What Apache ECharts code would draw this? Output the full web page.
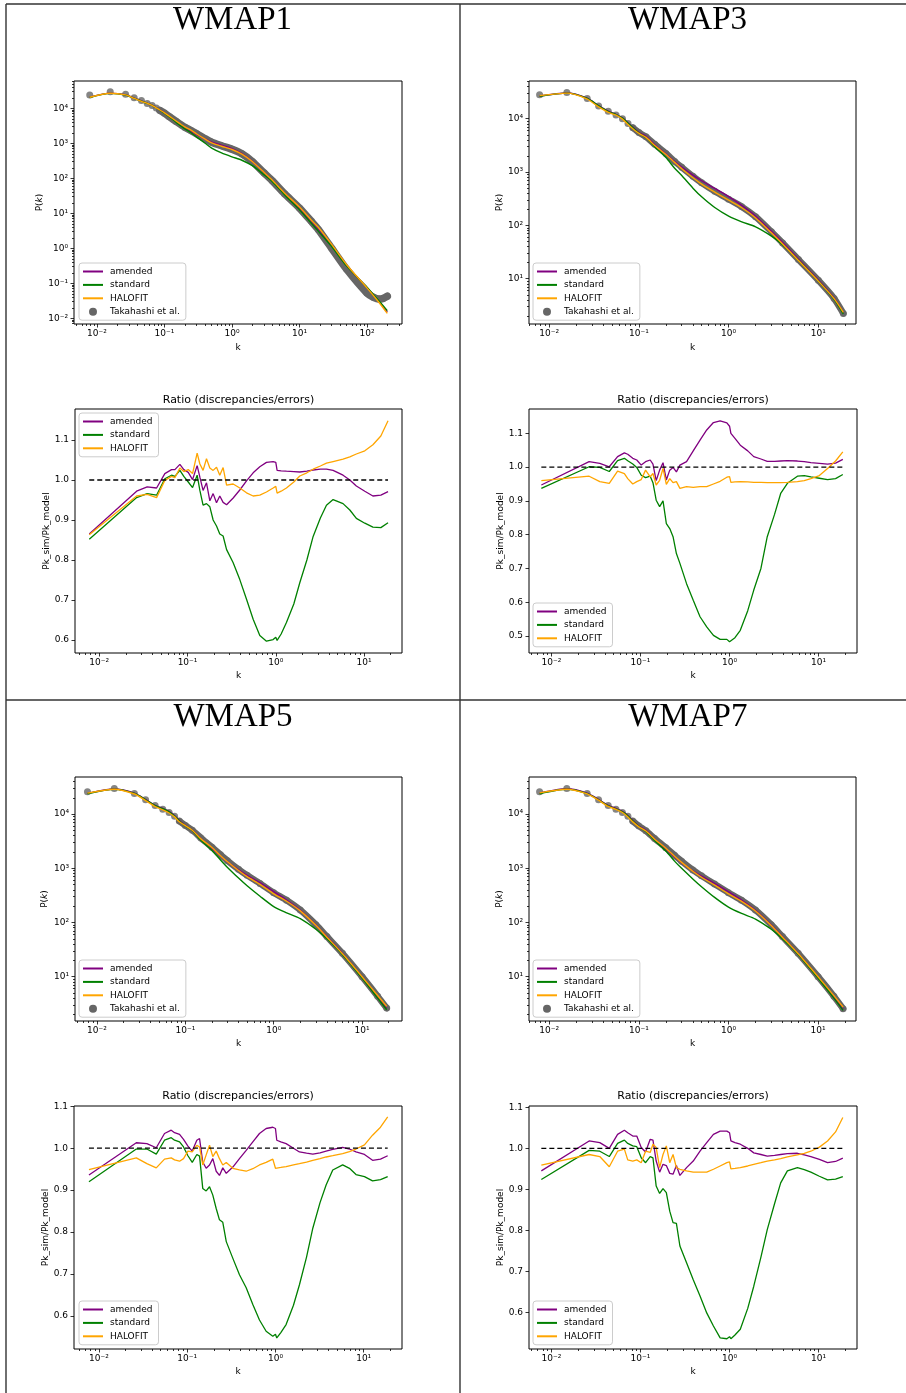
<!DOCTYPE html>
<html><head><meta charset="utf-8">
<script src="https://cdn.jsdelivr.net/npm/echarts@6/dist/echarts.min.js"></script>
<style>html,body{margin:0;padding:0;background:#fff}#c{width:906px;height:1393px}</style>
</head><body><div id="c"></div><script>
// ---------------- DATA ----------------
// wavenumbers k of the model curves in the P(k) panels
const topK = [0.0078, 0.0157, 0.0265, 0.0355, 0.0455, 0.0555, 0.0655, 0.0755, 0.0855, 0.1, 0.12, 0.15, 0.2, 0.25, 0.3, 0.4, 0.5, 0.7, 1.0, 1.4, 2.0, 3.0, 4.0, 6.0, 10, 15, 19];
const wmap1K = [0.0078, 0.0157, 0.0265, 0.0355, 0.0455, 0.0555, 0.0655, 0.0755, 0.0855, 0.1, 0.12, 0.15, 0.2, 0.25, 0.3, 0.4, 0.5, 0.7, 1.0, 1.4, 2.0, 3.0, 4.0, 6.0, 10, 15, 19, 30, 50, 100, 150, 200];
const wmap1SimK = [0.0078, 0.0157, 0.0265, 0.0355, 0.0455, 0.0555, 0.0655, 0.0755, 0.0855, 0.1, 0.12, 0.15, 0.2, 0.25, 0.3, 0.4, 0.5, 0.7, 1.0, 1.4, 2.0, 3.0, 4.0, 6.0, 10, 15, 19, 30, 50, 100, 125, 150, 175, 200];
// log10 P(k) values
const wmap1Sim      = [4.38, 4.47, 4.40, 4.30, 4.22, 4.14, 4.08, 4.01, 3.94, 3.86, 3.75, 3.62, 3.46, 3.36, 3.27, 3.13, 3.03, 2.93, 2.83, 2.70, 2.48, 2.15, 1.92, 1.56, 1.15, 0.77, 0.54, 0.00, -0.60, -1.28, -1.40, -1.45, -1.43, -1.37];
const wmap1Amended  = [4.317, 4.434, 4.388, 4.293, 4.211, 4.147, 4.091, 4.023, 3.954, 3.869, 3.759, 3.609, 3.442, 3.335, 3.245, 3.120, 3.033, 2.946, 2.849, 2.709, 2.489, 2.161, 1.931, 1.564, 1.138, 0.753, 0.527, 0.070, -0.500, -1.120, -1.520, -1.820];
const wmap1Standard = [4.310, 4.427, 4.380, 4.285, 4.203, 4.141, 4.085, 4.016, 3.947, 3.858, 3.748, 3.592, 3.414, 3.294, 3.178, 3.002, 2.863, 2.726, 2.613, 2.516, 2.361, 2.097, 1.895, 1.533, 1.102, 0.715, 0.491, 0.050, -0.510, -1.110, -1.500, -1.780];
const wmap1Halofit  = [4.316, 4.429, 4.382, 4.284, 4.200, 4.140, 4.084, 4.014, 3.951, 3.871, 3.763, 3.630, 3.471, 3.371, 3.266, 3.119, 3.013, 2.915, 2.823, 2.689, 2.479, 2.163, 1.937, 1.582, 1.177, 0.803, 0.600, 0.110, -0.470, -1.130, -1.540, -1.860];

const wmap3Sim      = [4.45, 4.49, 4.38, 4.24, 4.14, 4.07, 4.00, 3.91, 3.83, 3.74, 3.66, 3.52, 3.35, 3.20, 3.09, 2.92, 2.80, 2.64, 2.49, 2.35, 2.16, 1.88, 1.67, 1.36, 0.97, 0.63, 0.35];
const wmap3Amended  = [4.426, 4.483, 4.387, 4.245, 4.140, 4.083, 4.018, 3.923, 3.840, 3.743, 3.668, 3.511, 3.337, 3.196, 3.094, 2.941, 2.837, 2.695, 2.540, 2.375, 2.173, 1.888, 1.678, 1.368, 0.975, 0.634, 0.360];
const wmap3Standard = [4.422, 4.479, 4.380, 4.240, 4.134, 4.078, 4.011, 3.915, 3.830, 3.729, 3.647, 3.475, 3.271, 3.072, 2.935, 2.698, 2.536, 2.335, 2.174, 2.066, 1.973, 1.799, 1.638, 1.348, 0.956, 0.614, 0.340];
const wmap3Halofit  = [4.432, 4.479, 4.368, 4.221, 4.119, 4.065, 3.992, 3.890, 3.812, 3.724, 3.649, 3.498, 3.328, 3.181, 3.063, 2.894, 2.775, 2.624, 2.473, 2.331, 2.140, 1.860, 1.650, 1.341, 0.955, 0.626, 0.369];

const wmap5Sim      = [4.41, 4.47, 4.38, 4.265, 4.16, 4.09, 4.03, 3.96, 3.87, 3.79, 3.70, 3.56, 3.39, 3.25, 3.14, 2.98, 2.87, 2.72, 2.55, 2.41, 2.23, 1.96, 1.74, 1.43, 1.00, 0.64, 0.42];
const wmap5Amended  = [4.381, 4.463, 4.386, 4.270, 4.160, 4.105, 4.048, 3.975, 3.883, 3.792, 3.704, 3.545, 3.372, 3.225, 3.118, 2.969, 2.870, 2.735, 2.570, 2.414, 2.226, 1.954, 1.737, 1.430, 0.996, 0.628, 0.412];
const wmap5Standard = [4.374, 4.457, 4.379, 4.264, 4.154, 4.098, 4.041, 3.966, 3.874, 3.782, 3.696, 3.516, 3.330, 3.153, 3.015, 2.819, 2.676, 2.483, 2.293, 2.177, 2.069, 1.874, 1.699, 1.410, 0.973, 0.605, 0.389];
const wmap5Halofit  = [4.387, 4.459, 4.370, 4.249, 4.139, 4.079, 4.020, 3.948, 3.857, 3.787, 3.700, 3.542, 3.383, 3.232, 3.119, 2.958, 2.845, 2.702, 2.529, 2.391, 2.214, 1.947, 1.729, 1.422, 0.999, 0.653, 0.451];

const wmap7Sim      = [4.41, 4.47, 4.38, 4.265, 4.16, 4.09, 4.03, 3.96, 3.87, 3.78, 3.69, 3.55, 3.38, 3.24, 3.13, 2.97, 2.86, 2.71, 2.55, 2.41, 2.23, 1.96, 1.74, 1.43, 1.00, 0.64, 0.41];
const wmap7Amended  = [4.385, 4.466, 4.388, 4.271, 4.160, 4.105, 4.049, 3.973, 3.883, 3.780, 3.699, 3.536, 3.358, 3.212, 3.103, 2.955, 2.856, 2.723, 2.566, 2.414, 2.225, 1.952, 1.734, 1.425, 0.990, 0.625, 0.399];
const wmap7Standard = [4.376, 4.457, 4.378, 4.262, 4.151, 4.095, 4.039, 3.963, 3.870, 3.770, 3.681, 3.508, 3.320, 3.132, 2.999, 2.803, 2.659, 2.462, 2.283, 2.166, 2.063, 1.874, 1.699, 1.408, 0.971, 0.605, 0.379];
const wmap7Halofit  = [4.392, 4.459, 4.373, 4.256, 4.140, 4.087, 4.029, 3.947, 3.856, 3.765, 3.688, 3.537, 3.369, 3.220, 3.108, 2.945, 2.834, 2.690, 2.528, 2.390, 2.213, 1.946, 1.729, 1.422, 0.998, 0.651, 0.441];

// wavenumbers of the ratio panels
const ratioK = [0.0077, 0.0265, 0.0349, 0.0446, 0.0553, 0.0659, 0.0719, 0.0819, 0.0908, 0.1019, 0.114, 0.1285, 0.138, 0.150, 0.164, 0.179, 0.195, 0.213, 0.232, 0.253, 0.277, 0.329, 0.391, 0.466, 0.554, 0.659, 0.784, 0.933, 1.0, 1.035, 1.15, 1.32, 1.6, 1.87, 2.25, 2.65, 3.2, 3.75, 4.46, 5.78, 6.9, 8.18, 10.2, 12.6, 15.5, 18.7];

const r1Amended  = [0.865, 0.972, 0.983, 0.980, 1.016, 1.026, 1.026, 1.039, 1.026, 1.019, 1.001, 1.036, 1.007, 0.974, 0.993, 0.948, 0.966, 0.943, 0.960, 0.944, 0.938, 0.955, 0.975, 0.998, 1.018, 1.033, 1.044, 1.046, 1.044, 1.024, 1.023, 1.022, 1.021, 1.020, 1.022, 1.025, 1.027, 1.027, 1.024, 1.012, 1.000, 0.985, 0.972, 0.960, 0.962, 0.971];
const r1Standard = [0.852, 0.956, 0.966, 0.962, 1.003, 1.012, 1.009, 1.024, 1.009, 0.995, 0.981, 1.012, 0.974, 0.937, 0.941, 0.933, 0.900, 0.885, 0.865, 0.860, 0.826, 0.793, 0.751, 0.702, 0.652, 0.611, 0.597, 0.601, 0.607, 0.599, 0.615, 0.644, 0.690, 0.743, 0.800, 0.859, 0.905, 0.937, 0.951, 0.941, 0.925, 0.904, 0.892, 0.882, 0.881, 0.893];
const r1Halofit  = [0.863, 0.960, 0.964, 0.956, 0.999, 1.009, 1.006, 1.030, 1.021, 1.026, 1.016, 1.067, 1.040, 1.024, 1.053, 1.030, 1.024, 1.032, 1.012, 1.031, 0.987, 0.990, 0.980, 0.968, 0.960, 0.962, 0.970, 0.980, 0.984, 0.967, 0.972, 0.980, 0.995, 1.010, 1.018, 1.027, 1.035, 1.042, 1.046, 1.052, 1.058, 1.065, 1.073, 1.088, 1.110, 1.148];

const r3Amended  = [0.947, 1.016, 1.011, 1.001, 1.031, 1.042, 1.038, 1.026, 1.021, 1.006, 1.016, 1.021, 1.009, 0.960, 0.991, 1.013, 0.962, 0.991, 0.999, 0.986, 1.006, 1.016, 1.048, 1.080, 1.110, 1.132, 1.137, 1.131, 1.121, 1.100, 1.085, 1.065, 1.048, 1.031, 1.024, 1.017, 1.017, 1.018, 1.019, 1.018, 1.016, 1.013, 1.011, 1.009, 1.012, 1.023];
const r3Standard = [0.937, 1.001, 0.999, 0.987, 1.019, 1.026, 1.019, 1.009, 0.999, 0.976, 0.969, 0.973, 0.954, 0.902, 0.883, 0.900, 0.833, 0.818, 0.794, 0.744, 0.715, 0.655, 0.606, 0.557, 0.527, 0.502, 0.490, 0.490, 0.483, 0.488, 0.495, 0.517, 0.575, 0.636, 0.700, 0.794, 0.860, 0.922, 0.952, 0.973, 0.975, 0.971, 0.967, 0.963, 0.966, 0.978];
const r3Halofit  = [0.960, 0.973, 0.957, 0.952, 0.988, 0.981, 0.966, 0.950, 0.957, 0.963, 0.991, 0.971, 0.981, 0.947, 0.961, 0.996, 0.949, 0.966, 0.954, 0.957, 0.937, 0.942, 0.940, 0.942, 0.942, 0.950, 0.958, 0.970, 0.972, 0.955, 0.956, 0.957, 0.956, 0.955, 0.955, 0.954, 0.954, 0.954, 0.955, 0.957, 0.960, 0.966, 0.975, 0.996, 1.018, 1.045];

const r5Amended  = [0.936, 1.013, 1.011, 1.001, 1.035, 1.043, 1.037, 1.033, 1.021, 1.005, 0.993, 1.019, 1.023, 0.967, 0.952, 0.960, 0.975, 0.945, 0.935, 0.953, 0.940, 0.955, 0.975, 0.995, 1.015, 1.035, 1.047, 1.050, 1.047, 1.019, 1.015, 1.011, 1.000, 0.991, 0.988, 0.986, 0.989, 0.993, 0.997, 1.002, 0.998, 0.991, 0.985, 0.971, 0.974, 0.982];
const r5Standard = [0.920, 0.998, 0.998, 0.986, 1.019, 1.025, 1.019, 1.015, 1.003, 0.982, 0.966, 0.985, 0.981, 0.904, 0.898, 0.908, 0.888, 0.856, 0.829, 0.823, 0.777, 0.737, 0.698, 0.667, 0.627, 0.590, 0.563, 0.551, 0.556, 0.547, 0.560, 0.579, 0.625, 0.674, 0.740, 0.809, 0.870, 0.912, 0.948, 0.960, 0.952, 0.937, 0.932, 0.922, 0.925, 0.932];
const r5Halofit  = [0.949, 0.977, 0.963, 0.953, 0.974, 0.977, 0.972, 0.969, 0.975, 0.993, 0.991, 1.007, 1.003, 0.960, 0.984, 1.007, 0.980, 0.993, 0.975, 0.960, 0.966, 0.952, 0.948, 0.945, 0.951, 0.960, 0.966, 0.974, 0.952, 0.953, 0.954, 0.956, 0.960, 0.963, 0.967, 0.971, 0.975, 0.979, 0.982, 0.987, 0.992, 0.998, 1.008, 1.031, 1.050, 1.075];

const r7Amended  = [0.945, 1.018, 1.014, 1.000, 1.034, 1.044, 1.038, 1.030, 1.030, 1.002, 0.991, 1.022, 1.020, 0.969, 0.942, 0.961, 0.958, 0.939, 0.937, 0.958, 0.934, 0.953, 0.969, 0.993, 1.014, 1.034, 1.042, 1.042, 1.038, 1.018, 1.014, 1.010, 1.000, 0.989, 0.985, 0.981, 0.983, 0.985, 0.987, 0.988, 0.984, 0.980, 0.973, 0.965, 0.968, 0.976];
const r7Standard = [0.924, 0.995, 0.993, 0.980, 1.012, 1.020, 1.012, 1.006, 1.004, 0.977, 0.965, 0.980, 0.977, 0.908, 0.890, 0.902, 0.892, 0.847, 0.819, 0.817, 0.762, 0.721, 0.680, 0.640, 0.599, 0.567, 0.538, 0.536, 0.541, 0.536, 0.545, 0.559, 0.610, 0.664, 0.735, 0.802, 0.865, 0.916, 0.945, 0.953, 0.948, 0.942, 0.932, 0.923, 0.925, 0.931];
const r7Halofit  = [0.959, 0.985, 0.980, 0.955, 0.993, 0.998, 0.972, 0.969, 0.972, 0.965, 0.993, 0.990, 1.010, 1.002, 0.953, 0.985, 1.006, 0.965, 0.985, 0.953, 0.949, 0.945, 0.942, 0.942, 0.942, 0.949, 0.957, 0.965, 0.967, 0.950, 0.951, 0.953, 0.957, 0.961, 0.965, 0.969, 0.972, 0.975, 0.979, 0.984, 0.988, 0.993, 1.003, 1.018, 1.040, 1.075];

const unityLevel = 1.0;
const panelTitles = ['WMAP1', 'WMAP3', 'WMAP5', 'WMAP7'];
const ratioTitle = 'Ratio (discrepancies/errors)';
const seriesNames = ['amended', 'standard', 'HALOFIT'];
const simName = 'Takahashi et al.';

// ---------------- LAYOUT ----------------
const FONT = 'DejaVu Sans';
const COLORS = {amended: '#800080', standard: '#008000', HALOFIT: '#ffa500', sim: '#666666'};
const panels = [
  {title: panelTitles[0], tx: 232.5, ty: 20.5,
   top: {simK: wmap1SimK, sim: wmap1Sim, k: wmap1K, vals: [wmap1Amended, wmap1Standard, wmap1Halofit], band: 7.5,
         rect: [74, 81, 328, 243], x: [-2.341, 2.519], y: [-2.163, 4.78], yGap: 30, xGap: 19, legend: [79, 263]},
   ratio: {vals: [r1Amended, r1Standard, r1Halofit], rect: [75, 409, 327, 244], x: [-2.275, 1.43], y: [0.5675, 1.1775], yGap: 23, xGap: 18, legend: [79, 413], ty: 400}},
  {title: panelTitles[1], tx: 687.5, ty: 20.5,
   top: {simK: topK, sim: wmap3Sim, k: topK, vals: [wmap3Amended, wmap3Standard, wmap3Halofit], band: 6.5,
         rect: [529, 81, 327, 243], x: [-2.226, 1.42], y: [0.151, 4.707], yGap: 25, xGap: 19, legend: [533, 263]},
   ratio: {vals: [r3Amended, r3Standard, r3Halofit], rect: [529, 409, 328, 244], x: [-2.252, 1.431], y: [0.4497, 1.172], yGap: 24, xGap: 18, legend: [533, 603], ty: 400}},
  {title: panelTitles[2], tx: 233, ty: 717.5,
   top: {simK: topK, sim: wmap5Sim, k: topK, vals: [wmap5Amended, wmap5Standard, wmap5Halofit], band: 6.5,
         rect: [75, 777, 327, 244], x: [-2.249, 1.452], y: [0.182, 4.684], yGap: 26, xGap: 18, legend: [79, 960]},
   ratio: {vals: [r5Amended, r5Standard, r5Halofit], rect: [74, 1106, 328, 243], x: [-2.283, 1.434], y: [0.5207, 1.1007], yGap: 22, xGap: 18, legend: [79, 1301], ty: 1096}},
  {title: panelTitles[3], tx: 687.8, ty: 717.5,
   top: {simK: topK, sim: wmap7Sim, k: topK, vals: [wmap7Amended, wmap7Standard, wmap7Halofit], band: 6.5,
         rect: [529, 777, 327, 244], x: [-2.226, 1.423], y: [0.182, 4.684], yGap: 25, xGap: 18, legend: [533, 960]},
   ratio: {vals: [r7Amended, r7Standard, r7Halofit], rect: [529, 1106, 328, 243], x: [-2.252, 1.431], y: [0.511, 1.1032], yGap: 24, xGap: 18, legend: [533, 1301], ty: 1096}}
];

// ---------------- HELPERS ----------------
const SUP = {'-': '⁻', '0': '⁰', '1': '¹', '2': '²', '3': '³', '4': '⁴', '5': '⁵', '6': '⁶', '7': '⁷', '8': '⁸', '9': '⁹'};
function pow10Label(v) { return '10' + String(Math.round(v)).split('').map(c => SUP[c]).join(''); }
function majorLog(r) { const a = []; for (let n = Math.ceil(r[0]); n <= Math.floor(r[1]); n++) a.push(n); return a; }
function minorLog(r) {
  const a = [];
  for (let n = Math.floor(r[0]); n <= Math.ceil(r[1]); n++)
    for (let m = 2; m <= 9; m++) { const v = n + Math.log10(m); if (v > r[0] && v < r[1]) a.push(v); }
  return a;
}
function linTicks(r, step) {
  const a = [];
  for (let i = Math.ceil(r[0] / step - 1e-9); i * step <= r[1] + 1e-9; i++) a.push(Math.round(i * step * 10) / 10);
  return a;
}

const grid = [], xAxis = [], yAxis = [], series = [], legend = [], elements = [];
const lbl = {fontFamily: FONT, fontSize: 9, color: '#000'};
const tickStyle = {color: '#000', width: 0.8};

function addGrid(p, logY, yName) {
  const g = grid.length;
  const r = p.rect;
  grid.push({left: r[0], top: r[1], width: r[2], height: r[3], show: true, borderColor: '#000', borderWidth: 1, backgroundColor: 'transparent'});
  const xi = xAxis.length;
  xAxis.push({gridIndex: g, type: 'value', min: p.x[0], max: p.x[1], position: 'bottom',
    axisLine: {show: false, onZero: false}, splitLine: {show: false},
    axisTick: {show: true, customValues: majorLog(p.x), length: 3.5, lineStyle: tickStyle},
    axisLabel: Object.assign({customValues: majorLog(p.x), formatter: pow10Label, margin: 5}, lbl),
    name: 'k', nameLocation: 'middle', nameGap: p.xGap, nameTextStyle: lbl});
  xAxis.push({gridIndex: g, type: 'value', min: p.x[0], max: p.x[1], position: 'top', offset: -r[3],
    axisLine: {show: false, onZero: false}, splitLine: {show: false}, axisLabel: {show: false},
    axisTick: {show: true, inside: true, customValues: minorLog(p.x), length: 2, lineStyle: tickStyle}});
  const yi = yAxis.length;
  const yMaj = logY ? majorLog(p.y) : linTicks(p.y, 0.1);
  yAxis.push({gridIndex: g, type: 'value', min: p.y[0], max: p.y[1], position: 'left',
    axisLine: {show: false, onZero: false}, splitLine: {show: false},
    axisTick: {show: true, customValues: yMaj, length: 3.5, lineStyle: tickStyle},
    axisLabel: Object.assign({customValues: yMaj, formatter: logY ? pow10Label : (v => v.toFixed(1)), margin: 6}, lbl),
    name: yName, nameLocation: 'middle', nameGap: p.yGap,
    nameTextStyle: Object.assign({rich: {i: {fontFamily: FONT, fontSize: 9, fontStyle: 'italic', color: '#000'}}}, lbl)});
  if (logY) {
    yAxis.push({gridIndex: g, type: 'value', min: p.y[0], max: p.y[1], position: 'right', offset: -r[2],
      axisLine: {show: false, onZero: false}, splitLine: {show: false}, axisLabel: {show: false},
      axisTick: {show: true, inside: true, customValues: minorLog(p.y), length: 2, lineStyle: tickStyle}});
  }
  return {xi, yi};
}

function legendBox(pos, names) {
  legend.push({orient: 'vertical', left: pos[0], top: pos[1], itemWidth: 20, itemHeight: 8, itemGap: 2.4,
    padding: [3, 6, 3, 3], backgroundColor: 'rgba(255,255,255,0.8)', borderColor: '#cccccc', borderWidth: 1, borderRadius: 3,
    selectedMode: false, itemStyle: {opacity: 0},
    textStyle: {fontFamily: FONT, fontSize: 9, color: '#000', lineHeight: 11, padding: [0, 0, 0, 2]},
    data: names});
}

panels.forEach(P => {
  // ---- P(k) panel ----
  const t = P.top;
  const a = addGrid(t, true, 'P({i|k})');
  const simPts = t.simK.map((k, i) => [Math.log10(k), t.sim[i]]);
  series.push({type: 'line', name: '_band', xAxisIndex: a.xi, yAxisIndex: a.yi, data: simPts.slice(8),
    symbol: 'none', silent: true, smooth: 0.2, lineStyle: {color: COLORS.sim, width: t.band, cap: 'round', join: 'round'}});
  series.push({type: 'scatter', name: simName, xAxisIndex: a.xi, yAxisIndex: a.yi, data: simPts,
    symbol: 'circle', symbolSize: 7, itemStyle: {color: COLORS.sim}});
  seriesNames.forEach((n, j) => {
    series.push({type: 'line', name: n, xAxisIndex: a.xi, yAxisIndex: a.yi,
      data: t.k.map((k, i) => [Math.log10(k), t.vals[j][i]]), symbol: 'none', smooth: 0.25,
      lineStyle: {color: COLORS[n], width: 1.4}, itemStyle: {color: COLORS[n]}});
  });
  legendBox(t.legend, [seriesNames[0], seriesNames[1], seriesNames[2],
    {name: simName, icon: 'circle', itemStyle: {opacity: 1, color: COLORS.sim}}]);

  // ---- ratio panel ----
  const R = P.ratio;
  const b = addGrid(R, false, 'Pk_sim/Pk_model');
  seriesNames.forEach((n, j) => {
    series.push({type: 'line', name: n, xAxisIndex: b.xi, yAxisIndex: b.yi,
      data: ratioK.map((k, i) => [Math.log10(k), R.vals[j][i]]), symbol: 'none',
      lineStyle: {color: COLORS[n], width: 1.3}, itemStyle: {color: COLORS[n]}});
  });
  series.push({type: 'line', name: '_unity', xAxisIndex: b.xi, yAxisIndex: b.yi, silent: true,
    data: [[Math.log10(ratioK[0]), unityLevel], [Math.log10(ratioK[ratioK.length - 1]), unityLevel]],
    symbol: 'none', lineStyle: {color: '#000', width: 1.3, type: [5, 3]}});
  legendBox(R.legend, seriesNames.slice());

  // titles
  elements.push({type: 'text', x: P.tx, y: P.ty, z: 10,
    style: {text: P.title, font: '33px "Liberation Serif"', fill: '#000', align: 'center', verticalAlign: 'middle', textAlign: 'center', textVerticalAlign: 'middle'}});
  elements.push({type: 'text', x: R.rect[0] + R.rect[2] / 2, y: R.ty, z: 10,
    style: {text: ratioTitle, font: '11px "DejaVu Sans"', fill: '#000', align: 'center', verticalAlign: 'middle', textAlign: 'center', textVerticalAlign: 'middle'}});
});

// cell borders
const borderStyle = {stroke: '#333', lineWidth: 1.4};
[[6, 4, 906, 4], [6, 4, 6, 1393], [460, 4, 460, 1393], [6, 700, 906, 700]].forEach(s => {
  elements.push({type: 'line', z: 10, shape: {x1: s[0], y1: s[1], x2: s[2], y2: s[3]}, style: borderStyle});
});

const chart = echarts.init(document.getElementById('c'), null, {renderer: 'canvas'});
chart.setOption({
  animation: false,
  backgroundColor: '#fff',
  grid, xAxis, yAxis, series, legend,
  graphic: {elements}
});
</script></body></html>
